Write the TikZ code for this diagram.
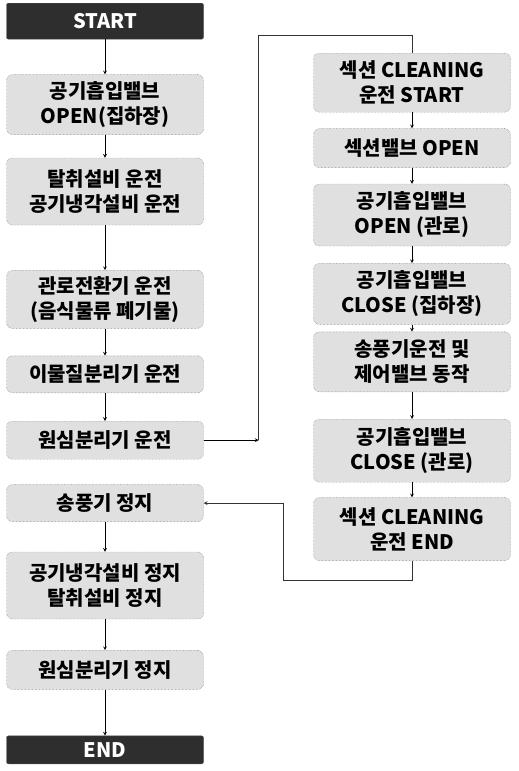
\documentclass[tikz,border=0pt]{standalone}
\usepackage{fontspec}
\setmainfont{Noto Sans CJK KR}
\usepackage{tikz}
\usetikzlibrary{positioning}

\tikzset{
  stepbox/.style={draw=black!60, densely dotted, fill=black!12, rounded corners=6pt,
    minimum width=197pt, align=center, inner sep=2pt,
    font=\bfseries\fontsize{20}{25}\selectfont},
  termbox/.style={stepbox, solid, draw=black!70, fill=black!82, text=white, rounded corners=2pt},
  flow/.style={-stealth, line width=0.7pt},
  loopline/.style={line width=0.7pt, black!80}
}

\begin{document}
\begin{tikzpicture}
		\useasboundingbox (0,0) rectangle (519pt,-771pt);
		
		\node[termbox, minimum height=36pt, anchor=north] (start) at (105pt,-3pt) {START};
		\node[stepbox, minimum height=60pt, below=35pt of start] (b1) {공기흡입밸브\\OPEN(집하장)};
		\node[stepbox, minimum height=67pt, below=23pt of b1] (b2) {탈취설비 운전\\공기냉각설비 운전};
		\node[stepbox, minimum height=58pt, below=45pt of b2] (b3) {관로전환기 운전\\(음식물류 폐기물)};
		\node[stepbox, minimum height=37pt, below=27pt of b3] (b4) {이물질분리기 운전};
		\node[stepbox, minimum height=38pt, below=28pt of b4] (b5) {원심분리기 운전};
		\node[stepbox, minimum height=37pt, below=25pt of b5] (b6) {송풍기 정지};
		\node[stepbox, minimum height=67pt, below=30pt of b6] (b7) {공기냉각설비 정지\\탈취설비 정지};
		\node[stepbox, minimum height=39pt, below=31pt of b7] (b8) {원심분리기 정지};
		\node[termbox, minimum height=28pt, below=46pt of b8] (end) {END};
		
		\node[stepbox, minimum height=59pt, anchor=north] (r1) at (412pt,-53pt) {섹션 CLEANING\\운전 START};
		\node[stepbox, minimum height=39pt, below=16pt of r1] (r2) {섹션밸브 OPEN};
		\node[stepbox, minimum height=62pt, below=16pt of r2] (r3) {공기흡입밸브\\OPEN (관로)};
		\node[stepbox, minimum height=61pt, below=17pt of r3] (r4) {공기흡입밸브\\CLOSE (집하장)};
		\node[stepbox, minimum height=60pt, below=7pt of r4] (r5) {송풍기운전 및\\제어밸브 동작};
		\node[stepbox, minimum height=63pt, below=27pt of r5] (r6) {공기흡입밸브\\CLOSE (관로)};
		\node[stepbox, minimum height=63pt, below=15pt of r6] (r7) {섹션 CLEANING\\운전 END};
		
		\draw[flow] (start.south)--(b1.north);
		\draw[flow] (b1.south)--(b2.north);
		\draw[flow] (b2.south)--(b3.north);
		\draw[flow] (b3.south)--(b4.north);
		\draw[flow] (b4.south)--(b5.north);
		\draw[flow] (b6.south)--(b7.north);
		\draw[flow] (b7.south)--(b8.north);
		\draw[flow] (b8.south)--(end.north);
		
		\draw[flow] (r1.south)--(r2.north);
		\draw[flow] (r2.south)--(r3.north);
		\draw[flow] (r3.south)--(r4.north);
		\draw[flow] (r4.south)--(r5.north);
		\draw[flow] (r5.south)--(r6.north);
		\draw[flow] (r6.south)--(r7.north);
		
		% loop out to the cleaning run and back
		\coordinate[right=55pt of b5] (lpa);
		\coordinate[above=18pt of r1] (lpb);
		\draw[flow] (b5.east)--(lpa);
		\draw[loopline] (lpa) |- (lpb) -- (r1.north);
		
		\coordinate[below=20pt of r7] (lqa);
		\coordinate[right=80pt of b6] (lqb);
		\draw[flow, black!80] (r7.south)--(lqa) -| (lqb) -- (b6.east);
	\end{tikzpicture}
\end{document}
